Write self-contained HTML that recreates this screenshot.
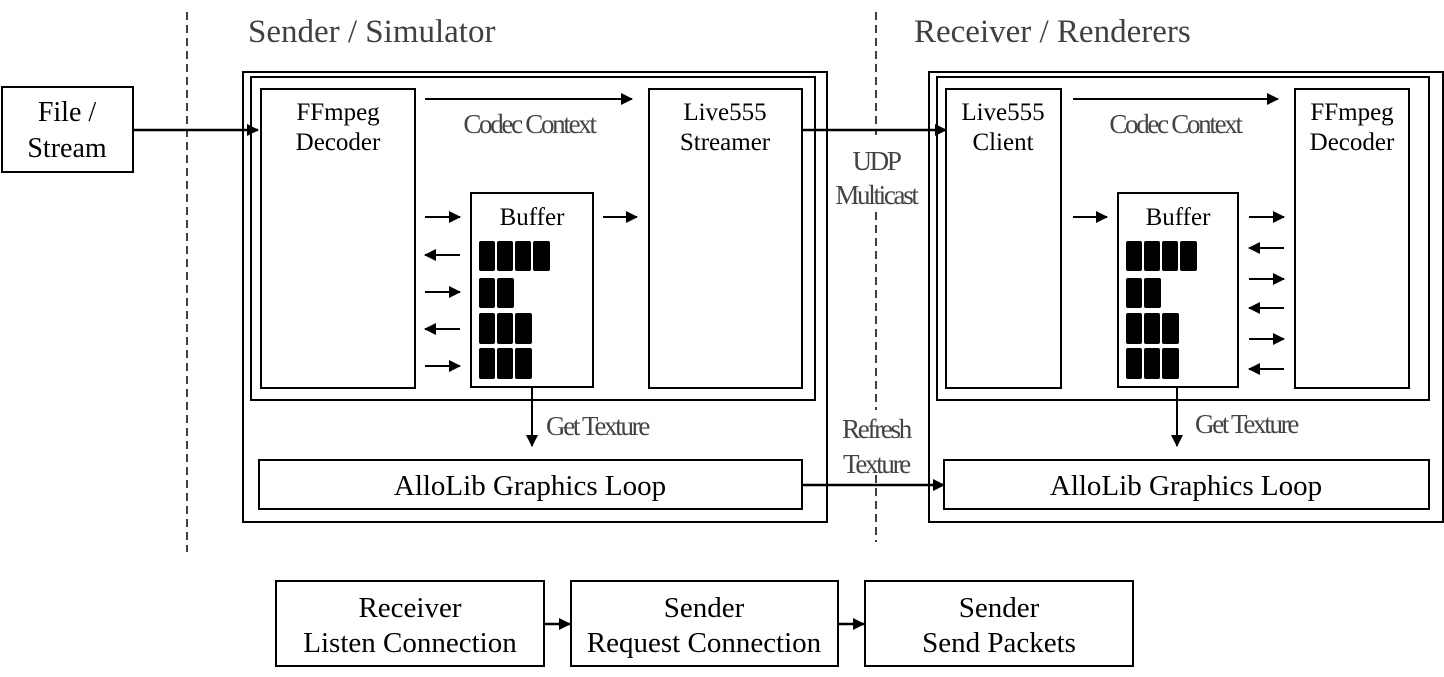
<!DOCTYPE html>
<html><head><meta charset="utf-8"><style>
html,body{margin:0;padding:0;background:#fff;}
svg{display:block;}
text{font-family:"Liberation Serif",serif;}
</style></head><body>
<svg width="1444" height="677" viewBox="0 0 1444 677" xmlns="http://www.w3.org/2000/svg">
<defs>
<marker id="ah" markerWidth="12" markerHeight="12" refX="11" refY="6" orient="auto" markerUnits="userSpaceOnUse">
<path d="M0,0 L12,6 L0,12 z" fill="#000"/></marker>
</defs>
<g fill="none" stroke="#000" stroke-width="2">
<line x1="187" y1="12" x2="187" y2="552" stroke-dasharray="8,5" stroke-width="1.5"/>
<line x1="876" y1="12" x2="876" y2="135" stroke-dasharray="8,5" stroke-width="1.5"/>
<line x1="876" y1="212" x2="876" y2="410" stroke-dasharray="8,5" stroke-width="1.5"/>
<line x1="876" y1="475" x2="876" y2="542" stroke-dasharray="8,5" stroke-width="1.5"/>
<rect x="2" y="87" width="131" height="85"/>
<rect x="243" y="72" width="584" height="450"/>
<rect x="251" y="77" width="564" height="323"/>
<rect x="261" y="89" width="154" height="299"/>
<rect x="649" y="89" width="153" height="299"/>
<rect x="471" y="193" width="122" height="194"/>
<rect x="259" y="460" width="543" height="49"/>
<rect x="929" y="72" width="514" height="450"/>
<rect x="937" y="77" width="492" height="323"/>
<rect x="946" y="89" width="115" height="299"/>
<rect x="1295" y="89" width="114" height="299"/>
<rect x="1118" y="193" width="120" height="194"/>
<rect x="944" y="460" width="485" height="49"/>
<rect x="276" y="581" width="268" height="85"/>
<rect x="571" y="581" width="267" height="85"/>
<rect x="865" y="581" width="268" height="85"/>
</g>
<g stroke="#000" stroke-width="2.5" marker-end="url(#ah)">
<line x1="133" y1="130" x2="258" y2="130"/>
<line x1="802" y1="130" x2="946" y2="130"/>
<line x1="802" y1="485" x2="944" y2="485"/>
<line x1="544" y1="624" x2="570" y2="624"/>
<line x1="838" y1="624" x2="864" y2="624"/>
</g>
<g stroke="#000" stroke-width="2" marker-end="url(#ah)">
<line x1="425" y1="99" x2="632" y2="99"/>
<line x1="1073" y1="99" x2="1278" y2="99"/>
<line x1="532" y1="388" x2="532" y2="446"/>
<line x1="1177" y1="388" x2="1177" y2="446"/>
<line x1="425" y1="217" x2="460" y2="217"/>
<line x1="460" y1="255" x2="425" y2="255"/>
<line x1="425" y1="292" x2="460" y2="292"/>
<line x1="460" y1="329" x2="425" y2="329"/>
<line x1="425" y1="366" x2="460" y2="366"/>
<line x1="603" y1="217" x2="637" y2="217"/>
<line x1="1073" y1="217" x2="1107" y2="217"/>
<line x1="1249" y1="217" x2="1284" y2="217"/>
<line x1="1284" y1="248" x2="1249" y2="248"/>
<line x1="1249" y1="279" x2="1284" y2="279"/>
<line x1="1284" y1="308" x2="1249" y2="308"/>
<line x1="1249" y1="339" x2="1284" y2="339"/>
<line x1="1284" y1="369" x2="1249" y2="369"/>
</g>
<g fill="#000">
<rect x="479" y="241" width="16" height="30" rx="2"/><rect x="497" y="241" width="16" height="30" rx="2"/><rect x="515" y="241" width="16" height="30" rx="2"/><rect x="533" y="241" width="17" height="30" rx="2"/>
<rect x="479" y="278" width="16" height="30" rx="2"/><rect x="497" y="278" width="17" height="30" rx="2"/>
<rect x="479" y="313" width="16" height="31" rx="2"/><rect x="497" y="313" width="16" height="31" rx="2"/><rect x="515" y="313" width="17" height="31" rx="2"/>
<rect x="479" y="348" width="16" height="31" rx="2"/><rect x="497" y="348" width="16" height="31" rx="2"/><rect x="515" y="348" width="17" height="31" rx="2"/>
<rect x="1126" y="241" width="16" height="30" rx="2"/><rect x="1144" y="241" width="16" height="30" rx="2"/><rect x="1162" y="241" width="16" height="30" rx="2"/><rect x="1180" y="241" width="17" height="30" rx="2"/>
<rect x="1126" y="278" width="16" height="30" rx="2"/><rect x="1144" y="278" width="17" height="30" rx="2"/>
<rect x="1126" y="313" width="16" height="31" rx="2"/><rect x="1144" y="313" width="16" height="31" rx="2"/><rect x="1162" y="313" width="17" height="31" rx="2"/>
<rect x="1126" y="348" width="16" height="31" rx="2"/><rect x="1144" y="348" width="16" height="31" rx="2"/><rect x="1162" y="348" width="17" height="31" rx="2"/>
</g>
<g font-size="33" fill="#404040">
<text x="248" y="42">Sender / Simulator</text>
<text x="914" y="42">Receiver / Renderers</text>
</g>
<g font-size="25" fill="#000" text-anchor="middle">
<text x="67" y="121" font-size="28">File /</text>
<text x="67" y="157" font-size="28">Stream</text>
<text x="338" y="120">FFmpeg</text>
<text x="338" y="150">Decoder</text>
<text x="725" y="120">Live555</text>
<text x="725" y="150">Streamer</text>
<text x="532" y="225">Buffer</text>
<text x="1003" y="120">Live555</text>
<text x="1003" y="150">Client</text>
<text x="1352" y="120">FFmpeg</text>
<text x="1352" y="150">Decoder</text>
<text x="1178" y="225">Buffer</text>
</g>
<g font-size="29" fill="#000" text-anchor="middle">
<text x="530" y="495">AlloLib Graphics Loop</text>
<text x="1186" y="495">AlloLib Graphics Loop</text>
<text x="410" y="617">Receiver</text>
<text x="410" y="652">Listen Connection</text>
<text x="704" y="617">Sender</text>
<text x="704" y="652">Request Connection</text>
<text x="999" y="617">Sender</text>
<text x="999" y="652">Send Packets</text>
</g>
<g font-size="27" fill="#444" text-anchor="middle" letter-spacing="-2.3">
<text x="529" y="133">Codec Context</text>
<text x="1175" y="133">Codec Context</text>
<text x="876" y="170">UDP</text>
<text x="876" y="204">Multicast</text>
<text x="876" y="438">Refresh</text>
<text x="876" y="473">Texture</text>
</g>
<g font-size="27" fill="#444" letter-spacing="-2.3">
<text x="546" y="435">Get Texture</text>
<text x="1195" y="433">Get Texture</text>
</g>
</svg>
</body></html>
